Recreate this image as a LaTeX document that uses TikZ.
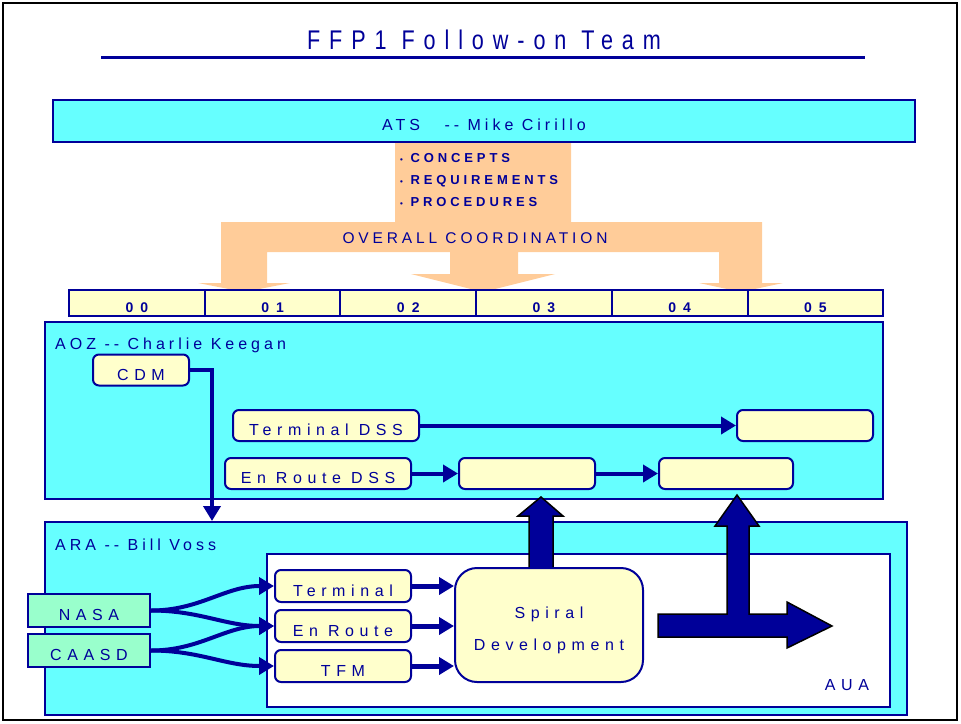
\documentclass[tikz,border=0pt]{standalone}
\usepackage{fontspec}
\setmainfont{Liberation Sans}
\newfontfamily\headfont[LetterSpace=25]{Liberation Sans}
\newfontfamily\boxfont[LetterSpace=35]{Liberation Sans}
\newfontfamily\listfont[LetterSpace=30]{Liberation Sans}
\newfontfamily\yearfont[LetterSpace=50]{Liberation Sans}
\newfontfamily\titlefont[LetterSpace=33,FakeStretch=0.8]{Liberation Sans}
\usetikzlibrary{arrows.meta,positioning}

\definecolor{navy}{HTML}{000099}
\definecolor{zonecyan}{HTML}{66FFFF}
\definecolor{paleyellow}{HTML}{FFFFCC}
\definecolor{peach}{HTML}{FFCC99}
\definecolor{mint}{HTML}{99FFCC}

\tikzset{
  zone/.style={draw=navy, line width=2.5pt, fill=zonecyan},
  zonelabel/.style={anchor=west, inner sep=0pt, text=navy, font=\headfont\fontsize{16}{16}\selectfont},
  taskbox/.style={draw=navy, line width=2pt, fill=paleyellow, rounded corners=6pt,
    minimum height=31pt, inner sep=0pt, text height=20pt, text depth=0pt,
    text=navy, font=\boxfont\fontsize{16}{16}\selectfont},
  srcbox/.style={taskbox, fill=mint, rounded corners=0pt, minimum width=122pt, minimum height=33pt},
  cell/.style={draw=navy, line width=2pt, fill=paleyellow, minimum width=135.7pt, minimum height=26pt,
    inner sep=0pt, text height=18pt, text depth=0pt,
    text=navy, font=\yearfont\bfseries\fontsize{14}{14}\selectfont},
  conn/.style={draw=navy, line width=4pt, -{Triangle[length=15pt,width=17pt]}},
  blockarrow/.style={fill=navy, draw=black, line width=1.5pt, line join=miter},
}

\begin{document}
\begin{tikzpicture}[x=1pt,y=-1pt]
\useasboundingbox (0,0) rectangle (961,723);
\draw[line width=2.5pt] (3,3) rectangle (957,720); % outer frame

\node[text=navy, font=\titlefont\fontsize{27}{27}\selectfont] (title) at (484,40) {FFP1 Follow-on Team};
\draw[navy, line width=3pt] (101,57) -- (865,57);

% overall coordination arrows
\fill[peach] (395,140) -- (571,140) -- (571,222) -- (762,222) -- (762,283) -- (783,283) -- (741,292)
  -- (699,283) -- (719,283) -- (719,252) -- (518,252) -- (518,274) -- (555,274) -- (483,292)
  -- (411,274) -- (450,274) -- (450,252) -- (267,252) -- (267,283) -- (290,283) -- (244,292)
  -- (198,283) -- (221,283) -- (221,222) -- (395,222) -- cycle;

\node[zone, minimum width=862pt, minimum height=42pt, text height=19pt, text depth=0pt, text=navy,
  font=\headfont\fontsize{16}{16}\selectfont] (ats) at (484,121) {ATS\quad\ -- Mike Cirillo};

\node[anchor=north west, align=left, inner sep=0pt, text=navy,
  font=\listfont\bfseries\fontsize{13}{22}\selectfont] (items) at (400,153)
  {{\fontsize{8}{8}\selectfont\textbullet} CONCEPTS\\
   {\fontsize{8}{8}\selectfont\textbullet} REQUIREMENTS\\
   {\fontsize{8}{8}\selectfont\textbullet} PROCEDURES};
\node[text=navy, font=\headfont\fontsize{15.5}{15.5}\selectfont] (coord) at (475,238) {OVERALL COORDINATION};

% years
\foreach \i in {0,...,5}
  \node[cell] (cell\i) at ({136.85+135.7*\i},303) {0\i};

% AOZ
\draw[zone] (45,322) rectangle (883,499);
\node[zonelabel] (aozlabel) at (55,345) {AOZ -- Charlie Keegan};
\node[taskbox, minimum width=96pt] (cdm) at (141,370) {CDM};
\node[taskbox, minimum width=186pt] (tdss) at (326,425.5) {Terminal DSS};
\node[taskbox, minimum width=136pt] (tdssout) at (805,425.5) {};
\node[taskbox, minimum width=186pt] (erdss) at (318,473.5) {En Route DSS};
\node[taskbox, minimum width=136pt] (erstepa) at (527,473.5) {};
\node[taskbox, minimum width=134pt] (erstepb) at (726,473.5) {};

\draw[conn] (tdss) -- (tdssout);
\draw[conn] (erdss) -- (erstepa);
\draw[conn] (erstepa) -- (erstepb);

% ARA
\draw[zone] (45,522) rectangle (907,715);
\node[zonelabel] (aralabel) at (55,545) {ARA -- Bill Voss};
\draw[draw=navy, line width=2pt, fill=white] (267,554) rectangle (890,707);
\node[text=navy, font=\boxfont\fontsize{16}{16}\selectfont] (aua) at (847,685) {AUA};

\coordinate (cdmdrop) at (212,521);
\draw[conn] (cdm.east) -| (cdmdrop);

\node[srcbox] (nasa) at (89,610.5) {NASA};
\node[srcbox] (caasd) at (89,650.5) {CAASD};

\node[taskbox, minimum width=136pt, minimum height=32pt] (term) at (343,586) {Terminal};
\node[taskbox, minimum width=136pt, minimum height=32pt] (enroute) at (343,626) {En Route};
\node[taskbox, minimum width=136pt, minimum height=32pt] (tfm) at (343,666) {TFM};
\node[taskbox, minimum width=188pt, minimum height=114pt, rounded corners=22pt, align=center,
  text height=51.5pt, text depth=0pt,
  font=\boxfont\fontsize{16}{32}\selectfont] (spiral) at (549,625) {Spiral\\Development};

\foreach \n in {term,enroute,tfm}
  \draw[conn, line width=5pt] (\n) -- (\n -| spiral.west);

\draw[conn] (nasa.east) to[out=0,in=180] (term.west);
\draw[conn] (nasa.east) to[out=0,in=180] (enroute.west);
\draw[conn] (caasd.east) to[out=0,in=180] (enroute.west);
\draw[conn] (caasd.east) to[out=0,in=180] (tfm.west);

% block arrows
\filldraw[blockarrow] (529,567) -- (529,516) -- (518,516) -- (541,497) -- (563,516) -- (553,516) -- (553,567);
\filldraw[blockarrow] (658,614) -- (727,614) -- (727,526) -- (715,526) -- (737,495) -- (759,526)
  -- (749,526) -- (749,614) -- (787,614) -- (787,602) -- (832,626) -- (787,648) -- (787,637)
  -- (658,637) -- cycle;
\end{tikzpicture}
\end{document}
